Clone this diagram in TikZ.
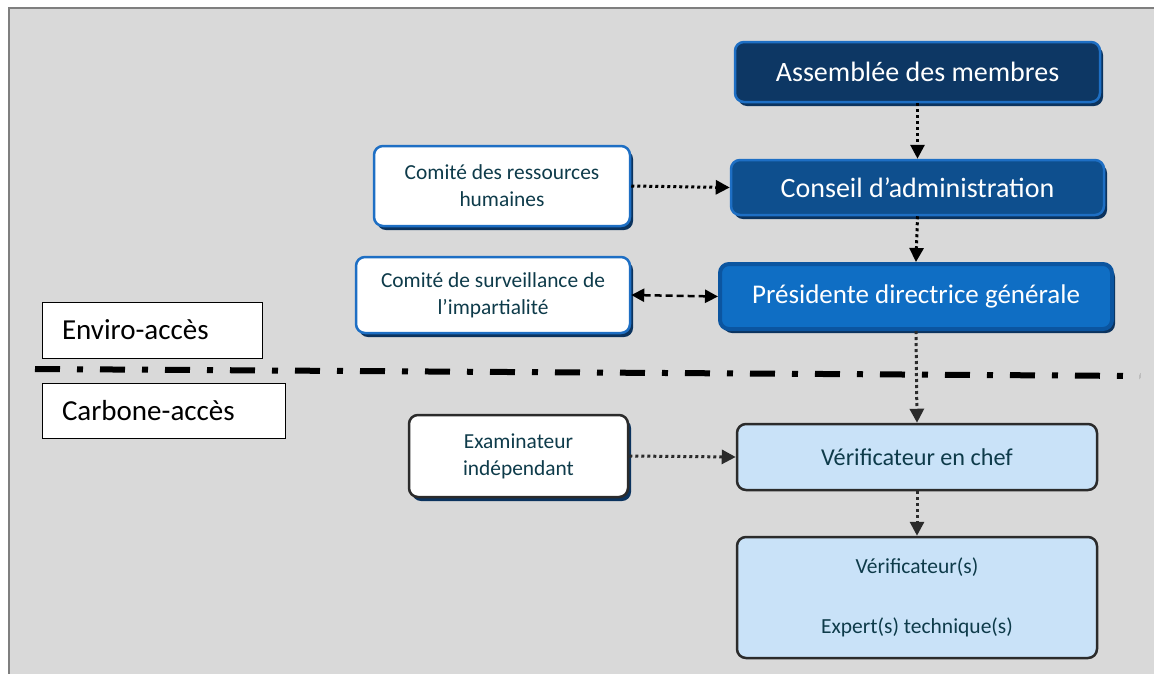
\documentclass[tikz,border=0pt]{standalone}
\usepackage{fontspec}
\setmainfont{Carlito}
\usetikzlibrary{arrows.meta,shadows}
\definecolor{bg}{HTML}{D9D9D9}
\definecolor{frame}{HTML}{7F7F7F}
\definecolor{navyA}{HTML}{0D3764}
\definecolor{navyB}{HTML}{0E4F8E}
\definecolor{blueC}{HTML}{0F6EC4}
\definecolor{rimA}{HTML}{1E6FC4}
\definecolor{rimC}{HTML}{0B55A0}
\definecolor{shad}{HTML}{0B335E}
\definecolor{txt}{HTML}{0E3B4A}
\definecolor{lightb}{HTML}{C9E2F8}
\definecolor{dk}{HTML}{2B2B2B}
\tikzset{
  boxbase/.style={rectangle, rounded corners=9pt, align=center, inner sep=2pt},
  shd/.style={general shadow={shadow xshift=3pt, shadow yshift=-4pt, fill=shad, opacity=1}},
  topbox/.style={boxbase, shd, text=white, font=\fontsize{28}{33}\selectfont, line width=2.5pt},
  combox/.style={boxbase, shd, fill=white, draw=rimA, line width=2.5pt, text=txt, font=\fontsize{21.4}{27}\selectfont},
  exbox/.style={boxbase, shd, fill=white, draw=dk, line width=2.5pt, text=txt, font=\fontsize{21.4}{27}\selectfont},
  verbox/.style={boxbase, fill=lightb, draw=dk, line width=2.5pt, text=txt},
  orgbox/.style={rectangle, draw=black, line width=0.8pt, fill=white, text width=180pt, inner xsep=20pt, align=left, font=\fontsize{29}{34}\selectfont},
  dotarrow/.style={line width=3pt, dash pattern=on 3pt off 3pt, -{Triangle[length=14pt,width=14pt]}},
  dasharrow/.style={line width=2.5pt, dash pattern=on 7pt off 4pt, {Triangle[length=13pt,width=13pt]}-{Triangle[length=13pt,width=13pt]}},
  sepline/.style={line width=6pt, dash pattern=on 25pt off 17pt on 6pt off 17pt}
}
\begin{document}
\begin{tikzpicture}[x=1pt,y=-1pt]
\useasboundingbox (0,0) rectangle (1154,673);
\fill[bg] (8,8) rectangle (1170,690);
\draw[frame, line width=2pt] (8.5,690) -- (8.5,8) -- (1170,8);

% separator
\coordinate (sepL) at (35,369);
\coordinate (sepR) at (1140,376);
\draw[sepline] (sepL) -- (sepR);

% top chain
\node[topbox, fill=navyA, draw=rimA, minimum width=365pt, minimum height=60pt] (asm) at (917.5,72) {Assemblée des membres};
\node[topbox, fill=navyB, draw=rimA, minimum width=373pt, minimum height=55pt] (ca) at (917.5,187.5) {Conseil d’administration};
\node[topbox, fill=blueC, draw=rimC, line width=4pt, minimum width=392pt, minimum height=65pt, font=\fontsize{27}{32}\selectfont] (pdg) at (916,296.5) {Présidente directrice générale};

% committees
\node[combox, minimum width=256pt, minimum height=80pt] (rh) at (502,186) {Comité des ressources\\humaines};
\node[combox, minimum width=274pt, minimum height=76pt] (csi) at (493,295) {Comité de surveillance de\\l’impartialité};

% organisations
\node[orgbox, minimum height=56pt] (env) at (152,330) {Enviro-accès};
\node[orgbox, text width=203pt, minimum height=55pt] (carb) at (163.5,410.5) {Carbone-accès};

% lower part
\node[exbox, minimum width=219pt, minimum height=82pt] (exa) at (518.5,456) {Examinateur\\indépendant};
\node[verbox, minimum width=360pt, minimum height=66pt, font=\fontsize{24.2}{29}\selectfont] (vc) at (917,457) {Vérificateur en chef};
\node[verbox, minimum width=360pt, minimum height=121pt, font=\fontsize{21.5}{26}\selectfont] (vs) at (917,597.5) {Vérificateur(s)\\[34pt]Expert(s) technique(s)};

% connectors
\draw[dotarrow] (asm.south) -- (ca.north);
\draw[dotarrow] (ca.south) -- (pdg.north);
\draw[dotarrow] (rh.east) -- (ca.west);
\draw[dasharrow] (csi.east) -- (pdg.west);
\draw[dotarrow, dk] (pdg.south) -- (vc.north);
\draw[dotarrow, dk] (exa.east) -- (vc.west);
\draw[dotarrow, dk] (vc.south) -- (vs.north);
\end{tikzpicture}
\end{document}
